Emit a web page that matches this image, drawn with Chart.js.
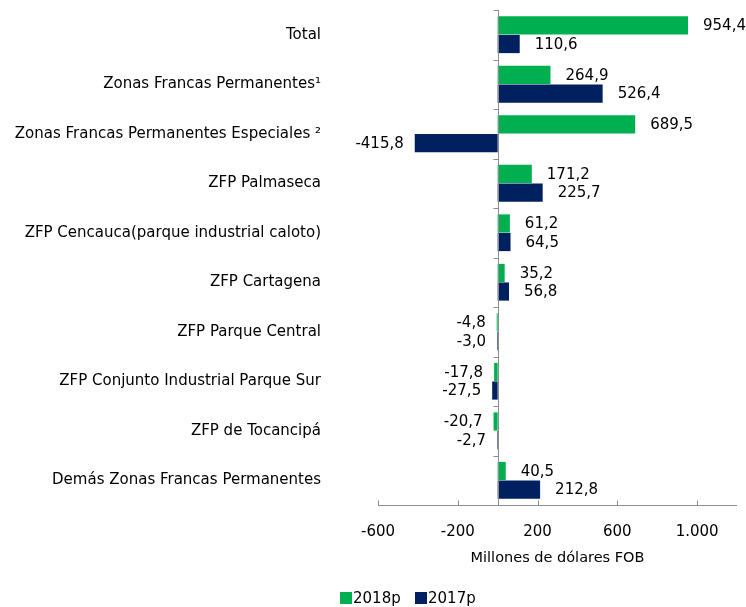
<!DOCTYPE html>
<html>
<head>
<meta charset="utf-8">
<script src="https://cdn.jsdelivr.net/npm/chart.js@4.4.1/dist/chart.umd.min.js"></script>
<style>
  body { margin: 0; background: #fff; }
  #wrap { position: relative; width: 746px; height: 607px; }
  #leyenda { position: absolute; left: 340px; top: 589px; font: 15px "DejaVu Sans", sans-serif; color: #000; white-space: nowrap; }
  #leyenda span.cuadro { display: inline-block; width: 12px; height: 12px; vertical-align: -1px; margin-right: 1px; }
</style>
</head>
<body>
<div id="wrap">
  <canvas id="grafico" width="746" height="607"></canvas>
  <div id="leyenda">
    <span class="cuadro" style="background:#00B050"></span>2018p&nbsp;&nbsp;
    <span class="cuadro" style="background:#002060"></span>2017p
  </div>
</div>
<script>
var categorias = ['Total', 'Zonas Francas Permanentes\u00B9', 'Zonas Francas Permanentes Especiales \u00B2',
  'ZFP Palmaseca', 'ZFP Cencauca(parque industrial caloto)', 'ZFP Cartagena', 'ZFP Parque Central',
  'ZFP Conjunto Industrial Parque Sur', 'ZFP de Tocancipá', 'Demás Zonas Francas Permanentes'];
var valores2018 = [954.4, 264.9, 689.5, 171.2, 61.2, 35.2, -4.8, -17.8, -20.7, 40.5];
var valores2017 = [110.6, 526.4, -415.8, 225.7, 64.5, 56.8, -3.0, -27.5, -2.7, 212.8];
var ticksX = [-600, -200, 200, 600, 1000];

var fuente = 'DejaVu Sans';

function formatoMiles(v) {
  var s = String(Math.abs(v));
  s = s.replace(/\B(?=(\d{3})+(?!\d))/g, '.');
  return (v < 0 ? '-' : '') + s;
}

// etiquetas de valor junto a cada barra
var etiquetas = {
  id: 'etiquetas',
  afterDatasetsDraw: function(chart) {
    var ctx = chart.ctx;
    ctx.save();
    ctx.font = '15px "' + fuente + '"';
    ctx.fillStyle = '#000';
    ctx.textBaseline = 'middle';
    chart.data.datasets.forEach(function(ds, i) {
      chart.getDatasetMeta(i).data.forEach(function(bar, j) {
        var v = ds.data[j];
        var txt = v.toFixed(1).replace('.', ',');
        if (v >= 0) {
          ctx.textAlign = 'left';
          ctx.fillText(txt, bar.x + 15, bar.y + 1);
        } else {
          ctx.textAlign = 'right';
          ctx.fillText(txt, bar.x - 11, bar.y + 1);
        }
      });
    });
    ctx.restore();
  }
};

// ejes estilo Excel: línea del cero con marcas y eje horizontal
var ejes = {
  id: 'ejes',
  afterDatasetsDraw: function(chart) {
    var sx = chart.scales.x, sy = chart.scales.y, ctx = chart.ctx;
    var x0 = Math.round(sx.getPixelForValue(0)) + 0.5;
    ctx.save();
    ctx.strokeStyle = '#8c8c8c';
    ctx.lineWidth = 1;
    ctx.beginPath();
    ctx.moveTo(x0, sy.top);
    ctx.lineTo(x0, sy.bottom);
    for (var k = 0; k <= categorias.length; k++) {
      var yy = Math.round(sy.getPixelForValue(k - 0.5)) + 0.5;
      ctx.moveTo(x0 - 5, yy);
      ctx.lineTo(x0, yy);
    }
    var yb = Math.round(sx.top) + 0.5;
    ctx.moveTo(sx.left, yb);
    ctx.lineTo(sx.right, yb);
    ticksX.forEach(function(v) {
      var px = Math.round(sx.getPixelForValue(v)) + 0.5;
      ctx.moveTo(px, yb - 5);
      ctx.lineTo(px, yb);
    });
    ctx.stroke();
    ctx.restore();
  }
};

var ctx = document.getElementById('grafico').getContext('2d');
var grafico = new Chart(ctx, {
  type: 'bar',
  data: {
    labels: categorias,
    datasets: [
      { label: '2018p', data: valores2018, backgroundColor: '#00B050', categoryPercentage: 0.75, barPercentage: 0.98 },
      { label: '2017p', data: valores2017, backgroundColor: '#002060', categoryPercentage: 0.75, barPercentage: 0.98 }
    ]
  },
  options: {
    indexAxis: 'y',
    responsive: false,
    animation: false,
    layout: { padding: { top: 10, right: 9, bottom: 40, left: 0 } },
    plugins: {
      legend: { display: false },
      tooltip: { enabled: false }
    },
    scales: {
      x: {
        min: -600,
        max: 1200,
        afterBuildTicks: function(scale) {
          scale.ticks = ticksX.map(function(v) { return { value: v }; });
        },
        afterFit: function(scale) { scale.height = 62; },
        grid: { display: false, drawTicks: false },
        border: { display: false },
        ticks: {
          autoSkip: false,
          maxRotation: 0,
          padding: 18,
          color: '#000',
          font: { family: fuente, size: 15 },
          callback: function(v) { return formatoMiles(v); }
        },
        title: {
          display: true,
          text: 'Millones de dólares FOB',
          color: '#000',
          font: { family: fuente, size: 14.5 },
          padding: { top: 0, bottom: 0 }
        }
      },
      y: {
        afterFit: function(scale) {
          scale.width = 378;
          scale.paddingTop = 0;
          scale.paddingBottom = 0;
        },
        grid: { display: false, drawTicks: false },
        border: { display: false },
        ticks: {
          padding: 57,
          color: '#000',
          font: { family: fuente, size: 15 }
        }
      }
    }
  },
  plugins: [ejes, etiquetas]
});
</script>
</body>
</html>
